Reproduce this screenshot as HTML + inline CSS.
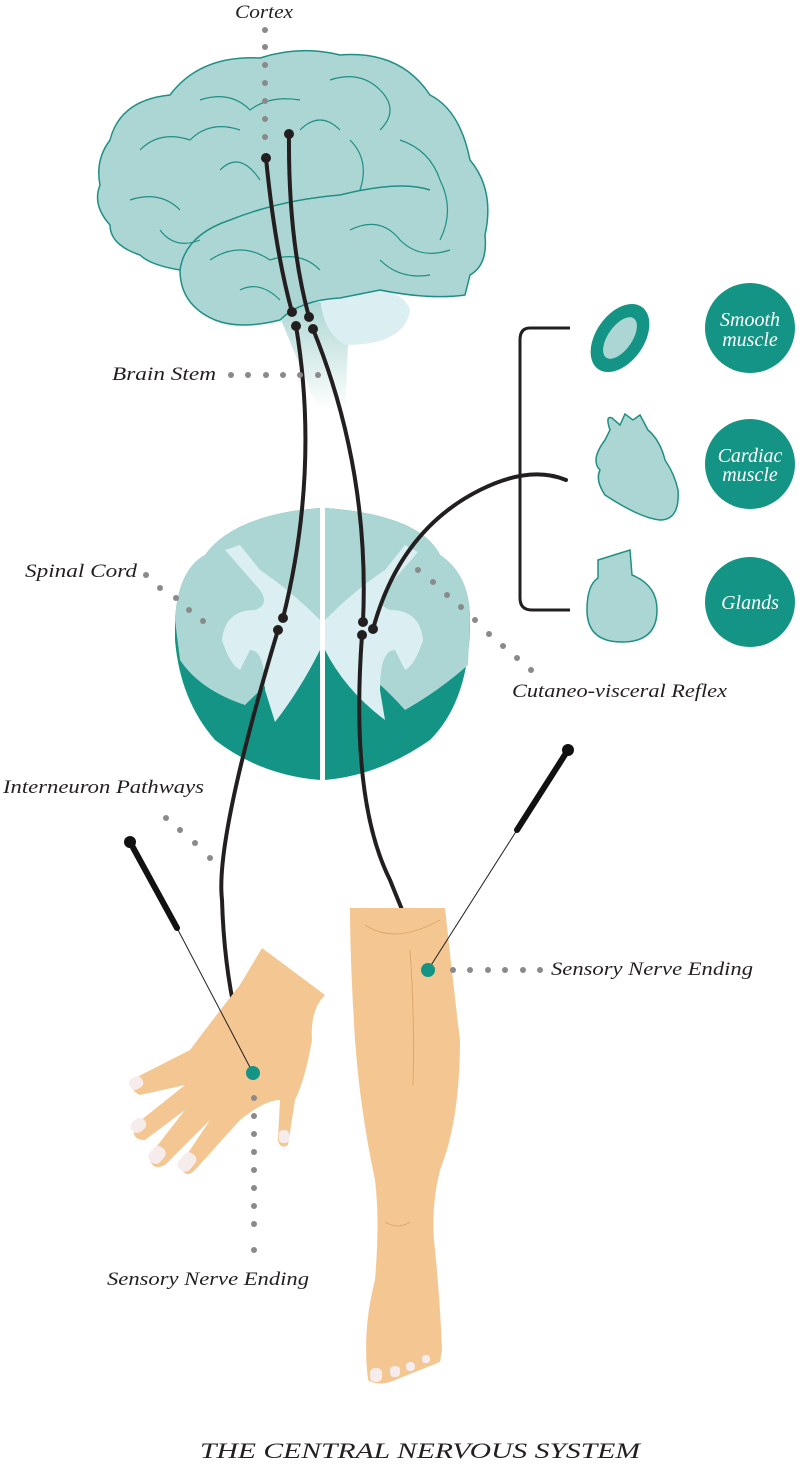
<!DOCTYPE html>
<html><head><meta charset="utf-8"><style>
html,body{margin:0;padding:0;background:#fff;}
svg{display:block;}
text{font-family:"Liberation Serif",serif;font-style:italic;fill:#231f20;}
</style></head><body>
<svg width="802" height="1472" viewBox="0 0 802 1472" xmlns="http://www.w3.org/2000/svg">
<defs>
<linearGradient id="stem" x1="0" y1="0" x2="0" y2="1">
<stop offset="0" stop-color="#acd6d3"/><stop offset="1" stop-color="#ffffff"/>
</linearGradient>
</defs>
<path d="M275,305 L350,300 L345,410 L318,410 Z" fill="url(#stem)"/>
<path d="M320,290 Q400,280 410,310 Q405,345 345,345 Q320,330 320,290Z" fill="#dbeef1"/>
<path d="M110,140 Q120,100 170,95 Q200,55 260,58 Q300,45 340,55 Q400,50 430,95 Q460,110 470,160 Q495,190 485,235 Q488,265 470,275 L465,295 Q430,300 380,290 L340,298 Q300,300 280,320 Q240,330 215,320 Q180,305 180,270 Q150,265 140,255 Q110,245 110,225 Q92,205 100,185 Q95,160 110,140Z" fill="#acd6d3" stroke="#1f8f86" stroke-width="1.5"/>
<path d="M180,270 Q185,235 230,220 Q280,200 340,195 Q400,180 430,190" fill="none" stroke="#1f8f86" stroke-width="1.5"/>
<g fill="none" stroke="#1f8f86" stroke-width="1.2">
<path d="M140,150 Q160,130 190,140 Q210,120 240,130"/><path d="M130,200 Q160,190 180,210"/><path d="M200,100 Q230,90 250,110 Q270,95 300,100"/>
<path d="M330,80 Q360,70 380,90 Q400,110 380,130"/><path d="M400,140 Q430,150 440,180 Q455,210 440,240"/><path d="M220,170 Q240,150 260,180"/>
<path d="M350,140 Q370,160 360,190"/><path d="M210,260 Q240,240 270,260 Q300,250 320,270"/><path d="M350,230 Q380,215 400,240 Q420,260 450,250"/>
<path d="M160,230 Q175,250 200,240"/><path d="M300,130 Q320,110 340,130"/><path d="M240,290 Q260,280 280,300"/><path d="M380,260 Q400,280 430,275"/>
</g>
<path d="M175,620 Q178,570 205,555 Q230,520 300,510 L320,508 L320,780 Q260,775 215,740 Q180,700 175,640Z" fill="#139485"/>
<path d="M325,508 Q420,515 440,555 Q470,575 470,620 Q470,700 430,740 Q380,775 325,780Z" fill="#139485"/>
<path d="M175,620 Q178,570 205,555 Q230,520 300,510 L320,508 L320,650 Q290,660 245,705 Q200,690 180,660Z" fill="#acd6d3"/>
<path d="M325,508 Q420,515 440,555 Q470,575 470,620 L468,665 Q440,690 405,710 Q360,660 325,650Z" fill="#acd6d3"/>
<path d="M225,550 L260,590 Q270,605 255,610 Q225,610 222,640 Q230,665 240,670 L250,650 Q265,650 265,690 L275,722 Q300,690 320,650 L320,620 Q290,590 260,570 L240,545Z" fill="#dbeef1"/>
<path d="M418,552 L385,590 Q375,605 390,610 Q420,610 423,640 Q415,665 405,670 L395,650 Q380,650 380,690 L385,720 Q345,690 325,650 L325,620 Q355,590 385,570 L405,545Z" fill="#dbeef1"/>
<g fill="none" stroke="#231f20" stroke-width="4" stroke-linecap="round">
<path d="M266,158 Q275,250 292,312"/>
<path d="M289,134 Q288,240 309,317"/>
<path d="M296,326 Q320,470 283,618"/>
<path d="M313,329 Q370,470 363,622"/>
<path d="M278,630 Q215,840 222,900 Q225,1000 253,1073"/>
<path d="M362,635 Q350,800 390,880 Q410,930 428,970"/>
<path d="M373,629 Q400,530 480,490 Q530,465 566,480"/>
</g>
<g fill="#231f20">
<circle cx="266" cy="158" r="5"/><circle cx="289" cy="134" r="5"/><circle cx="292" cy="312" r="5"/><circle cx="309" cy="317" r="5"/>
<circle cx="296" cy="326" r="5"/><circle cx="313" cy="329" r="5"/><circle cx="283" cy="618" r="5"/><circle cx="363" cy="622" r="5"/>
<circle cx="278" cy="630" r="5"/><circle cx="362" cy="635" r="5"/><circle cx="373" cy="629" r="5"/>
</g>
<path d="M570,328 H530 Q520,328 520,340 V598 Q520,610 532,610 H570" fill="none" stroke="#231f20" stroke-width="3"/>
<ellipse cx="620" cy="338" rx="24" ry="38" transform="rotate(35 620 338)" fill="#139485"/>
<ellipse cx="620" cy="338" rx="12" ry="24" transform="rotate(35 620 338)" fill="#acd6d3"/>
<path d="M610,430 Q605,415 612,418 L620,425 L625,414 L633,420 L640,415 L648,430 Q660,440 665,460 Q675,475 678,490 Q680,520 660,520 Q640,518 605,495 Q595,480 600,470 Q590,460 605,440Z" fill="#acd6d3" stroke="#1f8f86" stroke-width="1.5"/>
<path d="M598,560 L630,550 L632,575 Q657,585 657,610 Q657,642 622,642 Q587,642 587,610 Q587,585 598,578Z" fill="#acd6d3" stroke="#1f8f86" stroke-width="1.5"/>
<circle cx="750" cy="328" r="45" fill="#139485"/><circle cx="750" cy="464" r="45" fill="#139485"/><circle cx="750" cy="602" r="45" fill="#139485"/>
<g font-size="20" text-anchor="middle">
<text x="750" y="326" style="fill:#fff">Smooth</text><text x="750" y="346" style="fill:#fff">muscle</text>
<text x="750" y="462" style="fill:#fff">Cardiac</text><text x="750" y="481" style="fill:#fff">muscle</text>
<text x="750" y="609" style="fill:#fff">Glands</text>
</g>
<path d="M262,948 L325,995 Q310,1010 312,1040 Q305,1080 295,1100 L288,1145 Q280,1150 278,1140 L280,1100 Q265,1100 240,1120 L195,1170 Q185,1180 180,1165 L210,1120 L165,1165 Q150,1172 150,1155 L185,1110 L145,1140 Q130,1140 135,1125 L185,1085 L140,1095 Q128,1090 135,1078 L190,1050 Q220,1010 240,985Z" fill="#f4c792"/>
<path d="M350,908 H445 Q455,1000 460,1040 Q460,1120 440,1170 Q430,1210 435,1250 Q440,1300 442,1350 L440,1362 Q420,1370 400,1378 Q380,1388 368,1380 Q362,1330 375,1280 Q380,1220 375,1180 Q360,1110 355,1040 Q350,960 350,908Z" fill="#f4c792"/>
<g fill="#f7ecec"><rect x="370" y="1368" width="12" height="14" rx="5"/><rect x="390" y="1366" width="10" height="11" rx="4"/><rect x="406" y="1362" width="9" height="9" rx="4"/><rect x="422" y="1355" width="8" height="8" rx="3"/>
<rect x="180" y="1152" width="14" height="20" rx="6" transform="rotate(40 187 1162)"/><rect x="150" y="1146" width="14" height="18" rx="6" transform="rotate(40 157 1155)"/><rect x="132" y="1117" width="13" height="16" rx="6" transform="rotate(50 138 1125)"/><rect x="130" y="1076" width="12" height="14" rx="5" transform="rotate(60 136 1083)"/><rect x="279" y="1130" width="10" height="13" rx="4"/></g>
<g fill="none" stroke="#e0a66b" stroke-width="1"><path d="M410,950 Q415,1020 413,1085"/><path d="M365,925 Q395,945 440,920"/><path d="M385,1222 Q398,1230 410,1222"/></g>
<line x1="177" y1="928" x2="253" y2="1073" stroke="#231f20" stroke-width="1"/>
<line x1="130" y1="842" x2="177" y2="928" stroke="#111" stroke-width="6" stroke-linecap="round"/>
<circle cx="130" cy="842" r="6" fill="#111"/>
<line x1="517" y1="830" x2="428" y2="970" stroke="#231f20" stroke-width="1"/>
<line x1="568" y1="750" x2="517" y2="830" stroke="#111" stroke-width="6" stroke-linecap="round"/>
<circle cx="568" cy="750" r="6" fill="#111"/>
<circle cx="253" cy="1073" r="7" fill="#139485"/><circle cx="428" cy="970" r="7" fill="#139485"/>
<g fill="#8a8a8a">
<circle cx="265" cy="30" r="3"/><circle cx="265" cy="47" r="3"/><circle cx="265" cy="65" r="3"/><circle cx="265" cy="83" r="3"/><circle cx="265" cy="101" r="3"/><circle cx="265" cy="119" r="3"/><circle cx="265" cy="137" r="3"/>
<circle cx="231" cy="375" r="3"/><circle cx="248" cy="375" r="3"/><circle cx="266" cy="375" r="3"/><circle cx="283" cy="375" r="3"/><circle cx="300" cy="375" r="3"/><circle cx="318" cy="375" r="3"/>
<circle cx="146" cy="575" r="3"/><circle cx="160" cy="588" r="3"/><circle cx="176" cy="598" r="3"/><circle cx="189" cy="610" r="3"/><circle cx="203" cy="621" r="3"/>
<circle cx="418" cy="570" r="3"/><circle cx="433" cy="582" r="3"/><circle cx="447" cy="595" r="3"/><circle cx="461" cy="607" r="3"/><circle cx="475" cy="620" r="3"/><circle cx="489" cy="634" r="3"/><circle cx="503" cy="646" r="3"/><circle cx="517" cy="658" r="3"/><circle cx="531" cy="670" r="3"/>
<circle cx="166" cy="818" r="3"/><circle cx="180" cy="830" r="3"/><circle cx="195" cy="843" r="3"/><circle cx="210" cy="858" r="3"/>
<circle cx="453" cy="970" r="3"/><circle cx="470" cy="970" r="3"/><circle cx="488" cy="970" r="3"/><circle cx="505" cy="970" r="3"/><circle cx="523" cy="970" r="3"/><circle cx="540" cy="970" r="3"/>
<circle cx="254" cy="1098" r="3"/><circle cx="254" cy="1116" r="3"/><circle cx="254" cy="1134" r="3"/><circle cx="254" cy="1152" r="3"/><circle cx="254" cy="1170" r="3"/><circle cx="254" cy="1188" r="3"/><circle cx="254" cy="1206" r="3"/><circle cx="254" cy="1224" r="3"/><circle cx="254" cy="1250" r="3"/>
</g>
<g font-size="19">
<text x="235" y="18" textLength="58" lengthAdjust="spacingAndGlyphs">Cortex</text>
<text x="112" y="380" textLength="104" lengthAdjust="spacingAndGlyphs">Brain Stem</text>
<text x="25" y="577" textLength="112" lengthAdjust="spacingAndGlyphs">Spinal Cord</text>
<text x="512" y="697" textLength="215" lengthAdjust="spacingAndGlyphs">Cutaneo-visceral Reflex</text>
<text x="3" y="793" textLength="201" lengthAdjust="spacingAndGlyphs">Interneuron Pathways</text>
<text x="551" y="975" textLength="202" lengthAdjust="spacingAndGlyphs">Sensory Nerve Ending</text>
<text x="107" y="1285" textLength="202" lengthAdjust="spacingAndGlyphs">Sensory Nerve Ending</text>
</g>
<text x="200" y="1458" font-size="22" textLength="440" lengthAdjust="spacingAndGlyphs">THE CENTRAL NERVOUS SYSTEM</text>
</svg>
</body></html>
